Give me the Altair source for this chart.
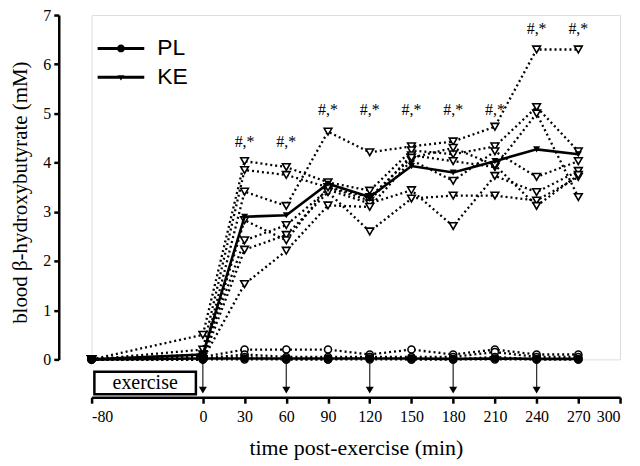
import altair as alt
import pandas as pd

# ---------------- data ----------------
times = [-80, 0, 30, 60, 90, 120, 150, 180, 210, 240, 270]

ke_mean = [0.0, 0.1, 2.9, 2.93, 3.57, 3.3, 3.93, 3.8, 4.03, 4.27, 4.17]
pl_mean = [0.0, 0.02, 0.02, 0.02, 0.02, 0.02, 0.02, 0.01, 0.02, 0.01, 0.01]

ke_s1 = [0, 0.05, 3.41, 3.12, 4.63, 4.21, 4.33, 4.43, 4.73, 6.3, 6.3]
ke_s2 = [0, 0.5, 4.03, 3.91, 3.6, 3.43, 4.25, 4.17, 4.33, 5.13, 4.23]
ke_s3 = [0, 0.2, 3.85, 3.75, 3.5, 3.23, 4.15, 4.03, 3.91, 5.0, 3.3]
ke_s4 = [0, 0.1, 2.42, 2.73, 3.45, 3.17, 3.44, 2.71, 3.73, 3.4, 3.83]
ke_s5 = [0, 0.0, 2.23, 2.53, 3.4, 2.6, 3.27, 3.33, 3.33, 3.23, 3.71]
ke_s6 = [0, 0.0, 1.53, 2.21, 3.13, 3.1, 4.05, 3.63, 4.23, 3.71, 4.03]
ke_s7 = [0, 0.0, 2.83, 2.42, 3.5, 3.3, 4.1, 4.3, 3.95, 3.12, 3.75]

pl_s1 = [0, 0.05, 0.2, 0.2, 0.2, 0.1, 0.2, 0.1, 0.2, 0.1, 0.1]
pl_s2 = [0, 0.02, 0.1, 0.05, 0.05, 0.05, 0.05, 0.05, 0.15, 0.05, 0.05]
pl_s3 = [0, 0.0, 0.05, 0.0, 0.0, 0.05, 0.0, 0.0, 0.05, 0.0, 0.0]
pl_s4 = [0, 0.0, 0.0, 0.0, 0.0, 0.0, 0.0, 0.0, 0.0, 0.0, 0.0]

annot_times = [30, 60, 90, 120, 150, 180, 210, 240, 270]
annot_y = [4.42, 4.42, 5.07, 5.07, 5.07, 5.07, 5.07, 6.72, 6.72]
annot_label = "#,*"

arrow_times = [0, 60, 120, 180, 240]

exercise_start, exercise_end = -78, -5
exercise_label = "exercise"

x_ticks = [-80, 0, 30, 60, 90, 120, 150, 180, 210, 240, 270, 300]
y_ticks = [0, 1, 2, 3, 4, 5, 6, 7]
groups = ["PL", "KE"]

# ---------------- tables ----------------
def long(subjects, prefix):
    rows = []
    for i, s in enumerate(subjects):
        for t, v in zip(times, s):
            rows.append({"t": t, "v": v, "subj": f"{prefix}{i+1}"})
    return pd.DataFrame(rows)

ke_ind = long([ke_s1, ke_s2, ke_s3, ke_s4, ke_s5, ke_s6, ke_s7], "KE")
pl_ind = long([pl_s1, pl_s2, pl_s3, pl_s4], "PL")
ke_m = pd.DataFrame({"t": times, "v": ke_mean})
pl_m = pd.DataFrame({"t": times, "v": pl_mean})
annot = pd.DataFrame({"t": annot_times, "v": annot_y, "lab": annot_label})
arrows = pd.DataFrame({"t": arrow_times, "v": -0.06, "v2": -0.6, "head": -0.624})
box = pd.DataFrame({"t": [exercise_start], "t2": [exercise_end], "v": [-0.25], "v2": [-0.71],
                    "mid": [(exercise_start + exercise_end) / 2], "vm": [-0.48], "lab": [exercise_label]})
leg = pd.DataFrame({"t": [0, 0], "v": [0, 0], "grp": groups})

SERIF = "Liberation Serif"

xscale = alt.Scale(domain=[-80, 300], nice=False, zero=False)
yscale = alt.Scale(domain=[0, 7], nice=False, zero=False)
xaxis = alt.Axis(values=x_ticks, offset=38, tickSize=6, tickWidth=2.5, domainWidth=2.5,
                 domainColor="black", tickColor="black", labelColor="black",
                 labelFont=SERIF, labelFontSize=16, labelPadding=5,
                 labelExpr="'' + datum.value", grid=False,
                 title="time post-exercise (min)", titleFont=SERIF, titleFontSize=22,
                 titleFontWeight="normal", titleColor="black", titlePadding=14)
yaxis = alt.Axis(values=y_ticks, offset=33, tickSize=5, tickWidth=2.5, domainWidth=2.5,
                 domainColor="black", tickColor="black", labelColor="black",
                 labelFont=SERIF, labelFontSize=16, labelPadding=3, grid=False,
                 title="blood β-hydroxybutyrate (mM)", titleFont=SERIF, titleFontSize=21,
                 titleFontWeight="normal", titleColor="black", titlePadding=12,
                 titleY=178)

X = alt.X("t:Q", scale=xscale, axis=xaxis)
Y = alt.Y("v:Q", scale=yscale, axis=yaxis)

dotted = dict(strokeDash=[2, 3], strokeWidth=2.3, color="black")

ke_ind_lines = alt.Chart(ke_ind).mark_line(**dotted).encode(x=X, y=Y, detail="subj:N")
pl_ind_lines = alt.Chart(pl_ind).mark_line(**dotted).encode(x=X, y=Y, detail="subj:N")
ke_ind_pts = alt.Chart(ke_ind).mark_point(shape="triangle-down", filled=True, fill="white",
                                          stroke="black", strokeWidth=1.6, size=60, opacity=1
                                          ).encode(x=X, y=Y)
pl_ind_pts = alt.Chart(pl_ind).mark_point(shape="circle", filled=True, fill="white",
                                          stroke="black", strokeWidth=1.6, size=50, opacity=1
                                          ).encode(x=X, y=Y)
pl_m_line = alt.Chart(pl_m).mark_line(color="black", strokeWidth=2.6).encode(x=X, y=Y)
ke_m_line = alt.Chart(ke_m).mark_line(color="black", strokeWidth=2.6).encode(x=X, y=Y)
pl_m_pts = alt.Chart(pl_m).mark_point(shape="circle", filled=True, color="black", size=70,
                                      opacity=1).encode(x=X, y=Y)
ke_m_pts = alt.Chart(ke_m).mark_point(shape="triangle-down", filled=True, color="black", size=50,
                                      opacity=1).encode(x=X, y=Y)

annot_txt = alt.Chart(annot).mark_text(font=SERIF, fontSize=16, color="black").encode(
    x=X, y=Y, text="lab:N")

arrow_lines = alt.Chart(arrows).mark_rule(color="#333333", strokeWidth=1.3).encode(
    x=X, y=Y, y2="v2:Q")
arrow_heads = alt.Chart(arrows).mark_point(shape="triangle-down", filled=True, color="black",
                                           size=64, opacity=1).encode(
    x=X, y=alt.Y("head:Q", scale=yscale, axis=yaxis))

box_rect = alt.Chart(box).mark_rect(fill="white", stroke="black", strokeWidth=2.5).encode(
    x=X, x2="t2:Q", y=Y, y2="v2:Q")
box_txt = alt.Chart(box).mark_text(font=SERIF, fontSize=20, color="black").encode(
    x=alt.X("mid:Q", scale=xscale, axis=xaxis), y=alt.Y("vm:Q", scale=yscale, axis=yaxis),
    text="lab:N")

# legend symbols: filled bar (the line) plus marker, same winding so they merge
bar = "M-1.42,-0.09L1.42,-0.09L1.42,0.09L-1.42,0.09Z"
path_pl = bar + "M0.24,0A0.24,0.24,0,1,1,-0.24,0A0.24,0.24,0,1,1,0.24,0Z"
path_ke = bar + "M-0.21,-0.12L0.21,-0.12L0,0.2Z"

legend_layer = alt.Chart(leg).transform_filter("false").mark_point(
    filled=True, color="black", opacity=1).encode(
    x=X, y=Y,
    shape=alt.Shape("grp:N", scale=alt.Scale(domain=groups, range=[path_pl, path_ke]),
                    legend=alt.Legend(orient="none", legendX=13, legendY=17, padding=0,
                                      title=None, symbolSize=1089, symbolStrokeWidth=0,
                                      symbolFillColor="black",
                                      symbolOpacity=1, labelFont="Liberation Sans",
                                      labelFontSize=23, labelColor="black", labelOffset=20,
                                      rowPadding=0)))

chart = alt.layer(
    box_rect, box_txt, arrow_lines, arrow_heads,
    pl_ind_lines, ke_ind_lines, pl_ind_pts, ke_ind_pts,
    pl_m_line, ke_m_line, pl_m_pts, ke_m_pts, annot_txt, legend_layer
).properties(
    width=531, height=346,
    autosize=alt.AutoSizeParams(type="none"),
    padding={"left": 84, "top": 6, "right": 12, "bottom": 104},
).configure_view(stroke=None).configure(background="white")

chart.save("out.html", embed_options={"renderer": "svg", "actions": False})
